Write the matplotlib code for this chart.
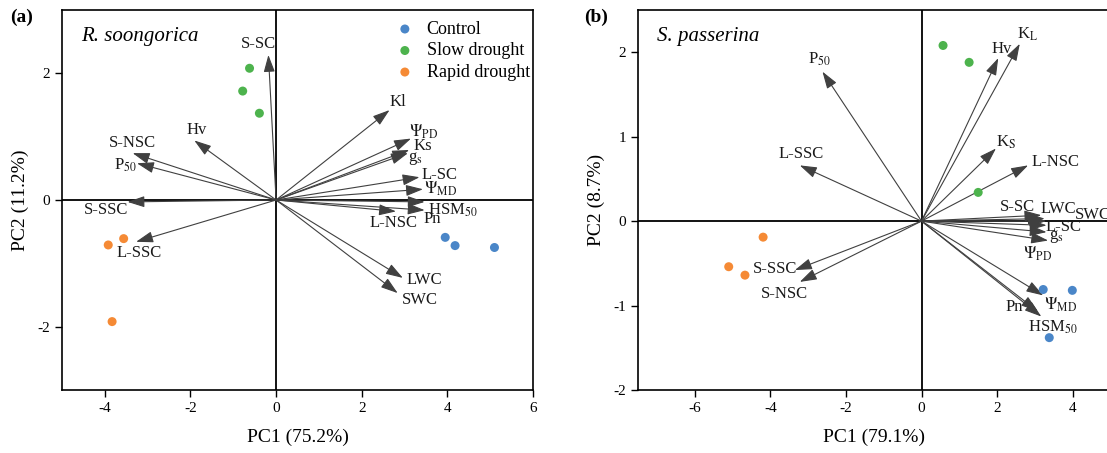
import matplotlib
matplotlib.use("Agg")
import matplotlib.pyplot as plt

plt.rcParams['font.family'] = ['Liberation Serif', 'DejaVu Serif']
plt.rcParams['mathtext.fontset'] = 'stix'
plt.rcParams['axes.unicode_minus'] = False

# ---------------- data: panel (a) R. soongorica ----------------
a_vars = ['S-SC', 'Hv', 'S-NSC', r'P$_{50}$', 'Kl', r'$\Psi_{\mathrm{PD}}$', 'Ks', r'g$_{\mathrm{s}}$',
          'L-SC', r'$\Psi_{\mathrm{MD}}$', r'HSM$_{50}$', 'Pn', 'L-NSC', 'S-SSC', 'L-SSC', 'LWC', 'SWC']
a_pc1 = [-0.18, -1.91, -3.35, -3.25, 2.65, 3.15, 3.11, 3.08, 3.35, 3.43, 3.47, 3.47, 2.80, -3.47, -3.27, 2.96, 2.84]
a_pc2 = [2.29, 0.94, 0.74, 0.58, 1.42, 0.97, 0.79, 0.74, 0.36, 0.17, -0.03, -0.16, -0.18, -0.03, -0.66, -1.23, -1.47]

a_control_x = [3.95, 4.18, 5.10]
a_control_y = [-0.59, -0.72, -0.75]
a_slow_x = [-0.62, -0.78, -0.39]
a_slow_y = [2.08, 1.72, 1.37]
a_rapid_x = [-3.92, -3.56, -3.83]
a_rapid_y = [-0.71, -0.61, -1.92]

# ---------------- data: panel (b) S. passerina ----------------
b_vars = [r'P$_{50}$', 'L-SSC', 'Hv', r'K$_{\mathrm{L}}$', r'K$_{\mathrm{S}}$', 'L-NSC', 'S-SC', 'LWC', 'SWC',
          'L-SC', r'g$_{\mathrm{s}}$', r'$\Psi_{\mathrm{PD}}$', r'$\Psi_{\mathrm{MD}}$', 'Pn', r'HSM$_{50}$',
          'S-SSC', 'S-NSC']
b_pc1 = [-2.62, -3.22, 2.03, 2.60, 1.97, 2.82, 3.17, 3.26, 3.30, 3.31, 3.31, 3.35, 3.22, 3.08, 3.17, -3.35, -3.22]
b_pc2 = [1.77, 0.66, 1.93, 2.10, 0.86, 0.66, 0.07, 0.03, 0.00, -0.05, -0.13, -0.23, -0.88, -1.07, -1.13, -0.58, -0.72]

b_control_x = [3.22, 3.99, 3.38]
b_control_y = [-0.81, -0.82, -1.38]
b_slow_x = [0.57, 1.26, 1.50]
b_slow_y = [2.08, 1.88, 0.34]
b_rapid_x = [-4.19, -5.10, -4.67]
b_rapid_y = [-0.19, -0.54, -0.64]

groups = ['Control', 'Slow drought', 'Rapid drought']
colors = ['#4a86c8', '#4db34d', '#f58a35']

# ---------------- label layout (pixel offsets from arrow tips) ----------------
a_offsets = [(-10, 11), (2, 10), (0, 10), (-12, -2), (8, 8), (13, 7), (14, 4), (7, -5),
             (20, 2), (18, 0), (28, -8), (8, -9), (-2, -12), (-21, -8), (3, -11), (21, -2), (22, -7)]
b_offsets = [(-3, 12), (1, 11), (3, 9), (8, 9), (10, 6), (27, 3), (-24, 8), (14, 10), (47, 6),
             (17, -2), (10, -4), (-11, -13), (17, -9), (-24, 4), (11, -11), (-20, 1), (-15, -12)]

fig = plt.figure(figsize=(11.07, 4.53), dpi=100)
ax_a = fig.add_axes([62 / 1107, 63 / 453, 471 / 1107, 380 / 453])
ax_b = fig.add_axes([638 / 1107, 63 / 453, 472.5 / 1107, 380 / 453])


def draw(ax, names, px, py, offsets, pts, xlim, ylim, xticks, yticks, xlabel, ylabel, species):
    ax.set_xlim(*xlim)
    ax.set_ylim(*ylim)
    ax.axhline(0, color='black', lw=1.3, zorder=1)
    ax.axvline(0, color='black', lw=1.3, zorder=1)
    for name, x, y, (dx, dy) in zip(names, px, py, offsets):
        ax.annotate('', xy=(x, y), xytext=(0, 0),
                    arrowprops=dict(arrowstyle='-|>,head_length=0.58,head_width=0.19',
                                    color='#404040', lw=0.8, shrinkA=0, shrinkB=0,
                                    mutation_scale=18), zorder=3)
        ax.annotate(name, xy=(x, y), xytext=(dx, dy), textcoords='offset pixels',
                    ha='center', va='center', fontsize=12, color='#1a1a1a', zorder=4)
    for (xs, ys), lab, c in zip(pts, groups, colors):
        ax.scatter(xs, ys, s=42, color=c, label=lab, zorder=5, edgecolors='none')
    ax.set_xticks(xticks)
    ax.set_yticks(yticks)
    ax.tick_params(direction='out', length=5, width=1, labelsize=11)
    for sp in ax.spines.values():
        sp.set_linewidth(1.2)
    ax.set_xlabel(xlabel, fontsize=14, labelpad=10)
    ax.set_ylabel(ylabel, fontsize=14, labelpad=6)
    ax.text(0.04, 0.93, species, transform=ax.transAxes, fontsize=15, style='italic',
            ha='left', va='center')


draw(ax_a, a_vars, a_pc1, a_pc2, a_offsets,
     [(a_control_x, a_control_y), (a_slow_x, a_slow_y), (a_rapid_x, a_rapid_y)],
     (-5, 6), (-3, 3), [-4, -2, 0, 2, 4, 6], [-2, 0, 2],
     'PC1 (75.2%)', 'PC2 (11.2%)', 'R. soongorica')
ax_a.legend(loc='upper right', frameon=False, fontsize=13, handletextpad=0.6,
            labelspacing=0.25, borderaxespad=0.3, scatterpoints=1, handlelength=1.2,
            bbox_to_anchor=(1.02, 1.005))

draw(ax_b, b_vars, b_pc1, b_pc2, b_offsets,
     [(b_control_x, b_control_y), (b_slow_x, b_slow_y), (b_rapid_x, b_rapid_y)],
     (-7.5, 5), (-2, 2.5), [-6, -4, -2, 0, 2, 4], [-2, -1, 0, 1, 2],
     'PC1 (79.1%)', 'PC2 (8.7%)', 'S. passerina')

fig.text(10 / 1107, 1 - 17 / 453, '(a)', fontsize=14, fontweight='bold', ha='left', va='center')
fig.text(584 / 1107, 1 - 17 / 453, '(b)', fontsize=14, fontweight='bold', ha='left', va='center')

fig.savefig('out.png', dpi=100)
